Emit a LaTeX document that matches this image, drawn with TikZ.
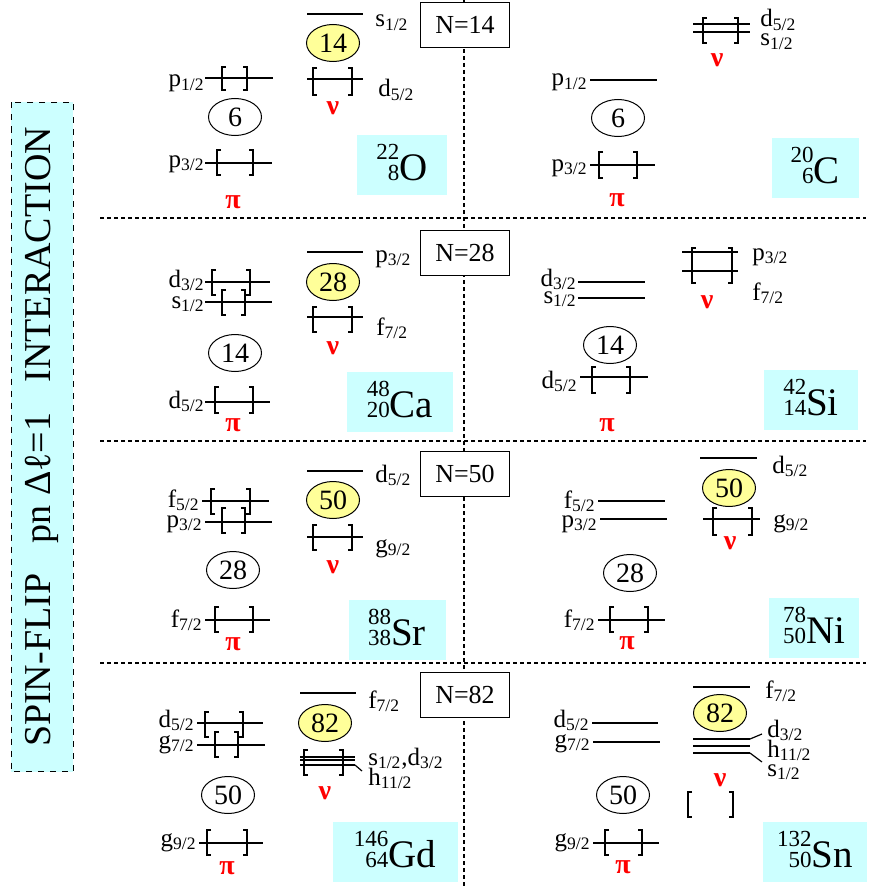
\documentclass[tikz,border=0pt]{standalone}
\usepackage{fontspec}
\setmainfont{Liberation Serif}
\usetikzlibrary{shapes.geometric}
\definecolor{boxcyan}{RGB}{204,255,255}
\definecolor{magicyel}{RGB}{255,255,153}
\newcommand\orb[2]{#1\textsubscript{#2}}
\newcommand\nuc[3]{\mbox{\fontsize{11.5}{9}\selectfont\begin{tabular}[b]{@{}r@{}}#1\\#2\end{tabular}}#3}
\newcommand\lvl[3]{\draw[lev] (#1,#3) -- (#2,#3);}
\newcommand\brk[4]{\draw[brk] (#1+4,#3) -| (#1,#4) -- (#1+4,#4);
  \draw[brk] (#2-4,#3) -| (#2,#4) -- (#2-4,#4);}
\tikzset{
  lev/.style={line width=0.6pt},
  brk/.style={line width=0.9pt},
  grid/.style={line width=0.6pt, dash pattern=on 2pt off 1.5pt},
  lab/.style={inner sep=0pt, font=\fontsize{12.5}{15}\selectfont},
  magic/.style={ellipse, draw, line width=0.5pt, inner sep=0pt,
    minimum width=26.5pt, minimum height=18.5pt, font=\fontsize{14}{16}\selectfont},
  ymagic/.style={magic, fill=magicyel},
  nbox/.style={draw, fill=white, line width=0.6pt, minimum width=44.5pt,
    minimum height=22.5pt, inner sep=0pt, font=\fontsize{13}{15}\selectfont},
  nucbox/.style={fill=boxcyan, minimum height=30pt, inner sep=0pt,
    font=\fontsize{19.5}{21}\selectfont},
  nuname/.style={text=red, inner sep=0pt, font=\fontsize{14}{16}\selectfont\bfseries},
}
\begin{document}
\begin{tikzpicture}[x=0.5pt,y=-0.5pt]
\useasboundingbox (0,0) rectangle (869,888);
% frame
\draw[grid] (464,0) -- (464,888);
\draw[grid] (100,218) -- (866,218);
\draw[grid] (100,441) -- (866,441);
\draw[grid] (100,663) -- (866,663);
\node[draw, dashed, fill=boxcyan, line width=0.5pt, rotate=90, minimum width=334.5pt,
  minimum height=31pt, font=\fontsize{19}{21}\selectfont] (title) at (42,437)
  {SPIN-FLIP\hspace{0.8em}pn Δℓ=1\hspace{0.8em}INTERACTION};

% 22O
\lvl{307}{363}{14}
\lvl{307}{363}{79} \brk{313}{352}{68}{95}
\lvl{205}{273}{78} \brk{222}{247}{67}{90}
\lvl{205}{272}{163} \brk{217}{253}{150}{175}
\node[ymagic] (O-n) at (333,43) {14};
\node[magic] (O-p) at (235,117) {6};
\node[lab, anchor=base west] (O-s12) at (375,27) {\orb{s}{1/2}};
\node[lab, anchor=base west] (O-d52) at (378,97) {\orb{d}{5/2}};
\node[lab, anchor=base east] (O-p12) at (205,87) {\orb{p}{1/2}};
\node[lab, anchor=base east] (O-p32) at (205,167) {\orb{p}{3/2}};
\node[nuname] (O-nu) at (333,108) {ν};
\node[nuname] (O-pi) at (233,202) {π};
\node[nucbox, minimum width=45pt] (O) at (402,165) {\nuc{22}{8}{O}};
\node[nbox] (N14) at (465,25) {N=14};

% 20C
\lvl{693}{750}{24} \lvl{693}{750}{32} \brk{703}{738}{18}{43}
\lvl{590}{657}{80}
\lvl{590}{655}{165} \brk{599}{637}{152}{178}
\node[magic] (C-p) at (618,118) {6};
\node[lab, anchor=base west] (C-d52) at (760,27) {\orb{d}{5/2}};
\node[lab, anchor=base west] (C-s12) at (760,46) {\orb{s}{1/2}};
\node[lab, anchor=base east] (C-p12) at (588,86) {\orb{p}{1/2}};
\node[lab, anchor=base east] (C-p32) at (588,171) {\orb{p}{3/2}};
\node[nuname] (C-nu) at (717,60) {ν};
\node[nuname] (C-pi) at (617,200) {π};
\node[nucbox, minimum width=43.5pt] (C) at (815,168) {\nuc{20}{6}{C}};

% 48Ca
\lvl{307}{363}{252}
\lvl{307}{363}{317} \brk{313}{352}{307}{332}
\lvl{205}{270}{282} \brk{212}{250}{270}{295}
\lvl{205}{272}{302} \brk{222}{245}{290}{315}
\lvl{205}{270}{402} \brk{215}{253}{387}{413}
\node[ymagic] (Ca-n) at (333,282) {28};
\node[magic] (Ca-p) at (235,353) {14};
\node[lab, anchor=base west] (Ca-p32) at (375,262) {\orb{p}{3/2}};
\node[lab, anchor=base west] (Ca-f72) at (376,335) {\orb{f}{7/2}};
\node[lab, anchor=base east] (Ca-d32) at (205,287) {\orb{d}{3/2}};
\node[lab, anchor=base east] (Ca-s12) at (205,308) {\orb{s}{1/2}};
\node[lab, anchor=base east] (Ca-d52) at (205,408) {\orb{d}{5/2}};
\node[nuname] (Ca-nu) at (333,348) {ν};
\node[nuname] (Ca-pi) at (233,425) {π};
\node[nucbox, minimum width=53pt] (Ca) at (400,402) {\nuc{48}{20}{Ca}};
\node[nbox] (N28) at (465,253) {N=28};

% 42Si
\lvl{578}{645}{282}
\lvl{578}{645}{298}
\lvl{580}{648}{377} \brk{592}{630}{367}{393}
\lvl{682}{738}{252} \lvl{682}{738}{271} \brk{692}{732}{248}{283}
\node[magic] (Si-p) at (610,345) {14};
\node[lab, anchor=base east] (Si-d32) at (577,286) {\orb{d}{3/2}};
\node[lab, anchor=base east] (Si-s12) at (577,303) {\orb{s}{1/2}};
\node[lab, anchor=base east] (Si-d52) at (578,388) {\orb{d}{5/2}};
\node[lab, anchor=base west] (Si-p32) at (752,260) {\orb{p}{3/2}};
\node[lab, anchor=base west] (Si-f72) at (752,300) {\orb{f}{7/2}};
\node[nuname] (Si-nu) at (707,302) {ν};
\node[nuname] (Si-pi) at (607,425) {π};
\node[nucbox, minimum width=47pt] (Si) at (811,400) {\nuc{42}{14}{Si}};

% 88Sr
\lvl{307}{363}{471}
\lvl{307}{363}{537} \brk{313}{352}{525}{550}
\lvl{202}{269}{501} \brk{211}{250}{489}{514}
\lvl{205}{272}{522} \brk{222}{245}{508}{533}
\lvl{205}{270}{620} \brk{215}{253}{607}{632}
\node[ymagic] (Sr-n) at (333,500) {50};
\node[magic] (Sr-p) at (233,570) {28};
\node[lab, anchor=base west] (Sr-d52) at (375,482) {\orb{d}{5/2}};
\node[lab, anchor=base west] (Sr-g92) at (375,552) {\orb{g}{9/2}};
\node[lab, anchor=base east] (Sr-f52) at (200,507) {\orb{f}{5/2}};
\node[lab, anchor=base east] (Sr-p32) at (203,527) {\orb{p}{3/2}};
\node[lab, anchor=base east] (Sr-f72) at (203,627) {\orb{f}{7/2}};
\node[nuname] (Sr-nu) at (333,567) {ν};
\node[nuname] (Sr-pi) at (233,644) {π};
\node[nucbox, minimum width=48.5pt] (Sr) at (397,630) {\nuc{88}{38}{Sr}};
\node[nbox] (N50) at (465,474) {N=50};

% 78Ni
\lvl{700}{757}{458}
\lvl{703}{760}{519} \brk{713}{752}{508}{535}
\lvl{598}{665}{501}
\lvl{600}{667}{519}
\lvl{598}{665}{620} \brk{610}{648}{607}{632}
\node[ymagic] (Ni-n) at (729,488) {50};
\node[magic] (Ni-p) at (630,573) {28};
\node[lab, anchor=base west] (Ni-d52) at (772,473) {\orb{d}{5/2}};
\node[lab, anchor=base west] (Ni-g92) at (773,527) {\orb{g}{9/2}};
\node[lab, anchor=base east] (Ni-f52) at (596,508) {\orb{f}{5/2}};
\node[lab, anchor=base east] (Ni-p32) at (598,527) {\orb{p}{3/2}};
\node[lab, anchor=base east] (Ni-f72) at (596,627) {\orb{f}{7/2}};
\node[nuname] (Ni-nu) at (730,543) {ν};
\node[nuname] (Ni-pi) at (627,643) {π};
\node[nucbox, minimum width=45pt] (Ni) at (814,628) {\nuc{78}{50}{Ni}};

% 146Gd
\lvl{300}{356}{693}
\lvl{300}{355}{757} \lvl{300}{355}{760} \lvl{300}{355}{765}
\draw[lev] (355,765) -- (362,771);
\brk{304}{343}{750}{775}
\lvl{197}{263}{723} \brk{205}{243}{712}{737}
\lvl{197}{265}{745} \brk{215}{238}{732}{757}
\lvl{199}{263}{843} \brk{207}{247}{830}{855}
\node[ymagic] (Gd-n) at (325,723) {82};
\node[magic] (Gd-p) at (228,795) {50};
\node[lab, anchor=base west] (Gd-f72) at (368,708) {\orb{f}{7/2}};
\node[lab, anchor=base west] (Gd-sd) at (368,765) {\orb{s}{1/2},\orb{d}{3/2}};
\node[lab, anchor=base west] (Gd-h112) at (368,785) {\orb{h}{11/2}};
\node[lab, anchor=base east] (Gd-d52) at (195,727) {\orb{d}{5/2}};
\node[lab, anchor=base east] (Gd-g72) at (195,748) {\orb{g}{7/2}};
\node[lab, anchor=base east] (Gd-g92) at (197,846) {\orb{g}{9/2}};
\node[nuname] (Gd-nu) at (325,793) {ν};
\node[nuname] (Gd-pi) at (227,868) {π};
\node[nucbox, minimum width=62.5pt] (Gd) at (395,852) {\nuc{146}{64}{Gd}};
\node[nbox] (N82) at (465,695) {N=82};

% 132Sn
\lvl{693}{750}{687}
\lvl{693}{750}{739} \lvl{693}{750}{746} \lvl{693}{750}{753}
\draw[lev] (750,739) -- (762,734);
\draw[lev] (750,753) -- (762,762);
\brk{688}{733}{792}{817}
\lvl{592}{658}{723}
\lvl{593}{660}{742}
\lvl{593}{659}{843} \brk{605}{642}{830}{855}
\node[ymagic] (Sn-n) at (720,713) {82};
\node[magic] (Sn-p) at (623,795) {50};
\node[lab, anchor=base west] (Sn-f72) at (765,698) {\orb{f}{7/2}};
\node[lab, anchor=base west] (Sn-d32) at (767,737) {\orb{d}{3/2}};
\node[lab, anchor=base west] (Sn-h112) at (767,757) {\orb{h}{11/2}};
\node[lab, anchor=base west] (Sn-s12) at (767,776) {\orb{s}{1/2}};
\node[lab, anchor=base east] (Sn-d52) at (590,727) {\orb{d}{5/2}};
\node[lab, anchor=base east] (Sn-g72) at (591,747) {\orb{g}{7/2}};
\node[lab, anchor=base east] (Sn-g92) at (591,846) {\orb{g}{9/2}};
\node[nuname] (Sn-nu) at (720,780) {ν};
\node[nuname] (Sn-pi) at (623,867) {π};
\node[nucbox, minimum width=52pt] (Sn) at (815,852) {\nuc{132}{50}{Sn}};
\end{tikzpicture}
\end{document}
